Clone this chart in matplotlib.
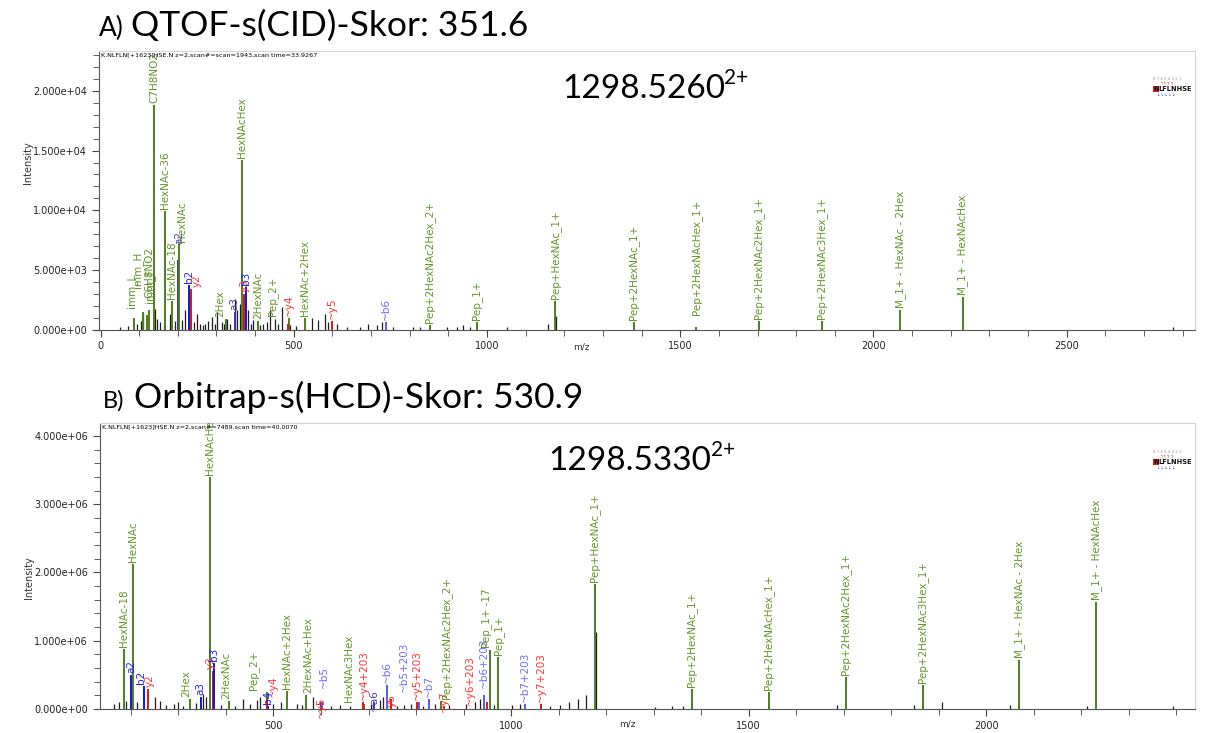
import matplotlib
matplotlib.use("Agg")
import matplotlib.pyplot as plt
from matplotlib.ticker import MultipleLocator, FuncFormatter
from matplotlib.patches import Rectangle

# ---- QTOF (CID) annotated peaks ----
qtof_mz = [86.10, 110.07, 120.08, 126.05, 138.05, 168.07, 186.08, 200.14, 204.09, 228.13,
           235.09, 325.11, 347.20, 366.14, 372.15, 375.20, 407.17, 487.24, 486.20, 528.19,
           599.28, 739.39, 852.37, 973.47, 1176.55, 1379.63, 1541.69, 1703.74, 1865.79,
           2068.87, 2230.92]
qtof_int = [1000, 1500, 1200, 1600, 18800, 9900, 2400, 5800, 7200, 3700,
            3400, 900, 1500, 14200, 3000, 3600, 700, 1000, 500, 1000,
            700, 600, 400, 600, 2400, 650, 250, 750, 750,
            1600, 2700]
qtof_lab = ['imm_L', 'imm_H', 'imm_F', 'C6H8NO2', 'C7H8NO2', 'HexNAc-36', 'HexNAc-18', 'a2', 'HexNAc', 'b2',
            'y2', '2Hex', 'a3', 'HexNAcHex', 'y3', 'b3', '2HexNAc', 'Pep_2+', '~y4', 'HexNAc+2Hex',
            '~y5', '~b6', 'Pep+2HexNAc2Hex_2+', 'Pep_1+', 'Pep+HexNAc_1+', 'Pep+2HexNAc_1+',
            'Pep+2HexNAcHex_1+', 'Pep+2HexNAc2Hex_1+', 'Pep+2HexNAc3Hex_1+',
            'M_1+ - HexNAc - 2Hex', 'M_1+ - HexNAcHex']
qtof_kind = ['g', 'g', 'g', 'g', 'g', 'g', 'g', 'a', 'g', 'b',
             'y', 'g', 'a', 'g', 'y', 'b', 'g', 'g', 'y', 'g',
             'y', 'lb', 'g', 'g', 'g', 'g', 'g', 'g', 'g',
             'g', 'g']
# unannotated peaks
qtof_minor_mz = [50.6, 72, 93.7, 104, 111, 141, 147, 155, 163, 180, 192, 212, 219, 243, 249, 257,
                 264, 270.5, 278, 288, 296, 301, 314, 320, 327, 336, 348, 352.5, 361, 382.6,
                 390, 395.5, 413, 421, 430, 438.7, 451.6, 460, 469, 490, 505, 546.5, 563.7,
                 581, 589.6, 611, 637, 671.6, 693, 714.7, 727.6, 757.7, 809.5, 826.8, 896,
                 921.7, 939, 956, 1051, 1159, 1177.5, 2774]
qtof_minor_int = [250, 300, 480, 700, 1320, 1740, 900, 600, 500, 1320, 700, 800, 1600, 600, 1320, 500,
                  400, 480, 700, 1040, 500, 1460, 600, 450, 900, 500, 2580, 1600, 2160, 1600,
                  500, 760, 400, 480, 600, 1600, 900, 450, 1880, 340, 300, 1000, 760,
                  1320, 620, 480, 250, 250, 480, 340, 620, 250, 250, 250, 250,
                  250, 340, 250, 230, 460, 1150, 200]

# ---- Orbitrap (HCD) annotated peaks ----
orbi_mz = [186.08, 200.14, 204.09, 228.13, 235.09, 325.11, 347.20, 366.14, 372.15, 375.20,
           407.17, 487.24, 488.29, 486.20, 528.19, 569.22, 599.28, 602.33, 690.24, 689.27,
           711.40, 739.39, 746.35, 805.41, 802.36, 826.42, 859.43, 852.37, 949.43, 942.47,
           956.44, 973.47, 1029.50, 1062.51, 1176.55, 1379.63, 1541.69, 1703.74, 1865.79,
           2068.87, 2230.92]
orbi_int = [0.88e6, 0.50e6, 2.12e6, 0.33e6, 0.30e6, 0.15e6, 0.18e6, 3.40e6, 0.55e6, 0.68e6,
            0.12e6, 0.25e6, 0.05e6, 0.15e6, 0.26e6, 0.20e6, 0.10e6, 0.10e6, 0.08e6, 0.10e6,
            0.10e6, 0.35e6, 0.15e6, 0.10e6, 0.10e6, 0.15e6, 0.05e6, 0.12e6, 0.10e6, 0.20e6,
            0.86e6, 0.76e6, 0.08e6, 0.08e6, 1.83e6, 0.30e6, 0.25e6, 0.47e6, 0.35e6,
            0.72e6, 1.57e6]
orbi_lab = ['HexNAc-18', 'a2', 'HexNAc', 'b2', 'y2', '2Hex', 'a3', 'HexNAcHex', 'y3', 'b3',
            '2HexNAc', 'Pep_2+', 'b4', '~y4', 'HexNAc+2Hex', '2HexNAc+Hex', '~y5', '~b5', 'HexNAc3Hex', '~y4+203',
            '~a6', '~b6', 'y6', '~b5+203', '~y5+203', '~b7', '~y7', 'Pep+2HexNAc2Hex_2+', '~y6+203', '~b6+203',
            'Pep_1+ -17', 'Pep_1+', '~b7+203', '~y7+203', 'Pep+HexNAc_1+', 'Pep+2HexNAc_1+',
            'Pep+2HexNAcHex_1+', 'Pep+2HexNAc2Hex_1+', 'Pep+2HexNAc3Hex_1+',
            'M_1+ - HexNAc - 2Hex', 'M_1+ - HexNAcHex']
orbi_kind = ['g', 'b', 'g', 'b', 'y', 'g', 'b', 'g', 'y', 'b',
             'g', 'g', 'b', 'y', 'g', 'g', 'y', 'lb', 'g', 'y',
             'a', 'lb', 'y', 'lb', 'y', 'lb', 'y', 'g', 'y', 'lb',
             'g', 'g', 'lb', 'y', 'g', 'g', 'g', 'g', 'g',
             'g', 'g']
orbi_minor_mz = [165, 175, 190, 213, 250.6, 261, 274, 290, 300, 310, 338, 352, 359, 390, 420,
                 436, 450, 464.6, 471.6, 500, 515, 549, 560, 582.5, 620, 640, 660, 705, 724,
                 731, 760, 775, 790, 815, 840, 870, 905, 925, 935, 965, 1001, 1018, 1082,
                 1103, 1122.5, 1141, 1157.6, 1177.6, 1302, 1338, 1361, 1685, 1848, 1906,
                 2050, 2212, 2393]
orbi_minor_int = [0.08e6, 0.10e6, 0.12e6, 0.10e6, 0.18e6, 0.11e6, 0.06e6, 0.07e6, 0.10e6, 0.05e6,
                  0.09e6, 0.22e6, 0.18e6, 0.06e6, 0.05e6, 0.15e6, 0.07e6, 0.13e6, 0.18e6, 0.08e6,
                  0.10e6, 0.08e6, 0.06e6, 0.18e6, 0.05e6, 0.06e6, 0.05e6, 0.07e6, 0.13e6, 0.17e6,
                  0.05e6, 0.06e6, 0.07e6, 0.05e6, 0.08e6, 0.06e6, 0.07e6, 0.10e6, 0.15e6, 0.06e6,
                  0.06e6, 0.07e6, 0.05e6, 0.06e6, 0.10e6, 0.15e6, 0.20e6, 1.13e6, 0.03e6, 0.05e6,
                  0.05e6, 0.06e6, 0.06e6, 0.10e6, 0.06e6, 0.05e6, 0.04e6]

# label nudges (pixels) where the labels were spread apart in the original
qtof_shift = {'imm_L': (-2, 8), 'imm_H': (-6, 22), 'imm_F': (3, 10), 'C6H8NO2': (0, 10),
              'a2': (1, 14), 'HexNAc': (3, 0), 'y2': (5, 0), '2Hex': (-6, 0), 'Pep_2+': (-16, 0),
              '~y4': (0, 6), 'Pep+2HexNAcHex_1+': (0, 10)}
orbi_shift = {'b2': (-3, 0), 'y2': (2, 0), '2Hex': (-4, 0), 'y3': (-2, 0), '2HexNAc': (-3, 0),
              'Pep_2+': (-14, 0), '~y4': (6, 0), '2HexNAc+Hex': (2, 0), '~y5': (0, -18),
              '~b5': (2, 12), 'HexNAc3Hex': (-15, 0), '~a6': (0, -11), 'y6': (1, -10),
              '~b5+203': (-15, 8), 'Pep+2HexNAc2Hex_2+': (6, 0), '~y6+203': (-17, -5),
              '~b6+203': (0, 5), '~y7': (0, -8), 'Pep_1+ -17': (-4, 0)}

line_col = {'g': '#4f7d1e', 'y': '#d01818', 'b': '#1515c8', 'lb': '#5a5ae6', 'a': '#3d2ea8'}
text_col = {'g': '#649628', 'y': '#ff3333', 'b': '#2323ff', 'lb': '#6e6eff', 'a': '#5038c8'}

W, H = 1208, 733
plt.rcParams['font.family'] = ['DejaVu Sans']
fig = plt.figure(figsize=(W / 100, H / 100), dpi=100)


def fx(x):
    return x / W


def fy(y):
    return 1 - y / H


def draw_spectrum(ax, mz, inten, labels, kinds, shift, minor_mz, minor_int):
    ax.vlines(minor_mz, 0, minor_int, colors='#1e1e1e', lw=0.9)
    clip = Rectangle((0, -0.1), 1, 1.1, transform=ax.transAxes, fc='none', ec='none')
    for m, v, lab, k in zip(mz, inten, labels, kinds):
        ax.vlines(m, 0, v, colors=line_col[k], lw=1.4)
        dx, dy = shift.get(lab, (0, 0))
        t = ax.annotate(lab, (m, v), xytext=(dx, 2 + dy), textcoords='offset pixels',
                        rotation=90, ha='center', va='bottom', fontsize=7.5,
                        color=text_col[k], annotation_clip=False)
        t.set_clip_path(clip)


def style_axes(ax, ymajor, yminor):
    for s in ['top', 'right']:
        ax.spines[s].set_color('#d4d4d4')
    for s in ['left', 'bottom']:
        ax.spines[s].set_color('#555555')
    ax.xaxis.set_major_locator(MultipleLocator(500))
    ax.xaxis.set_minor_locator(MultipleLocator(100))
    ax.yaxis.set_major_locator(MultipleLocator(ymajor))
    ax.yaxis.set_minor_locator(MultipleLocator(yminor))
    ax.yaxis.set_major_formatter(FuncFormatter(lambda v, p: '{:.3e}'.format(v)))
    ax.tick_params(which='both', direction='out', colors='#444444', labelcolor='#222222',
                   labelsize=7, top=False, right=False)
    ax.tick_params(which='major', length=5)
    ax.tick_params(which='minor', length=4)
    ax.set_ylabel('Intensity', fontsize=7, color='#333333')
    ax.set_xlabel('m/z', fontsize=6.5, color='#333333')


def seq_glyph(y):
    fig.text(fx(1153), fy(y - 10), '8 7 6 5 4 3 2 1', fontsize=2.8, color='#999999', va='center')
    fig.text(fx(1160), fy(y - 6), '┐ ┐ ┐ ┐', fontsize=3, color='#e02020', va='center')
    fig.text(fx(1153), fy(y), 'N', fontsize=4.8, weight='bold', color='#111111', va='center',
             bbox=dict(boxstyle='square,pad=0.05', fc='#e01818', ec='none'))
    fig.text(fx(1158.5), fy(y), 'LFLNHSE', fontsize=4.8, weight='bold', color='#111111', va='center')
    fig.text(fx(1157), fy(y + 7), '└ └ └ └ └', fontsize=3, color='#3030e0', va='center')


# ---- panel A ----
ax1 = fig.add_axes([fx(99), fy(329.5), 1096 / W, 278.5 / H])
draw_spectrum(ax1, qtof_mz, qtof_int, qtof_lab, qtof_kind, qtof_shift, qtof_minor_mz, qtof_minor_int)
style_axes(ax1, 5000, 1000)
ax1.set_xlim(-4, 2832)
ax1.set_ylim(0, 23350)
ax1.yaxis.set_label_coords(-0.06, 0.6)
ax1.xaxis.set_label_coords(0.44, -0.045)
ax1.text(0.002, 0.995, 'K.NLFLN[+1623]HSE.N z=2,scan#=scan=1943,scan time=33.9267',
         transform=ax1.transAxes, fontsize=4.6, va='top', ha='left')

# ---- panel B ----
ax2 = fig.add_axes([fx(100), fy(709), 1095 / W, 286 / H])
draw_spectrum(ax2, orbi_mz, orbi_int, orbi_lab, orbi_kind, orbi_shift, orbi_minor_mz, orbi_minor_int)
style_axes(ax2, 1e6, 2e5)
ax2.set_xlim(135, 2439)
ax2.set_ylim(0, 4.19e6)
ax2.yaxis.set_label_coords(-0.06, 0.46)
ax2.xaxis.set_label_coords(0.482, -0.035)
ax2.text(0.002, 0.995, 'K.NLFLN[+1623]HSE.N z=2,scan#=7489,scan time=40.0070',
         transform=ax2.transAxes, fontsize=4.6, va='top', ha='left')

# ---- titles and precursor masses ----
fig.text(fx(99), fy(36), 'A)', fontsize=19, family='Lato', va='baseline')
fig.text(fx(131), fy(36), 'QTOF-s(CID)-Skor: 351.6', fontsize=25.5, family='Lato', va='baseline')
fig.text(fx(103), fy(408), 'B)', fontsize=17, family='Lato', va='baseline')
fig.text(fx(134), fy(408), 'Orbitrap-s(HCD)-Skor: 530.9', fontsize=25.5, family='Lato', va='baseline')

fig.text(fx(562), fy(98), '1298.5260', fontsize=24, family='Lato', va='baseline')
fig.text(fx(724), fy(84), '2+', fontsize=15, family='Lato', va='baseline')
fig.text(fx(548), fy(470), '1298.5330', fontsize=24, family='Lato', va='baseline')
fig.text(fx(711), fy(456), '2+', fontsize=15, family='Lato', va='baseline')

seq_glyph(89)
seq_glyph(462)

fig.savefig('out.png', dpi=100)
